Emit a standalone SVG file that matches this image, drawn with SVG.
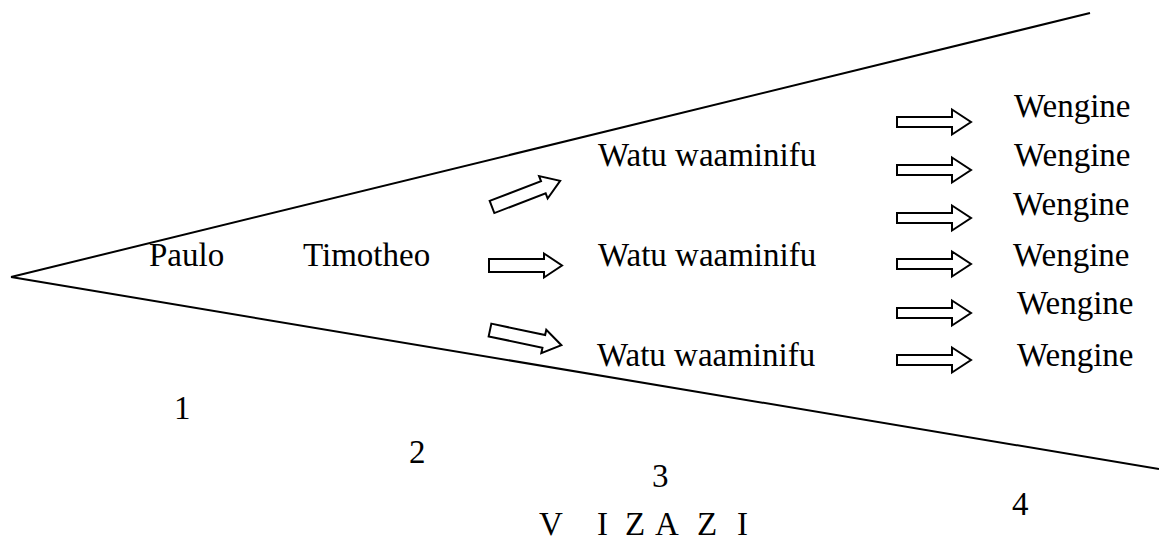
<svg xmlns="http://www.w3.org/2000/svg" width="1159" height="542" viewBox="0 0 1159 542">
<style>
text{font-family:"Liberation Serif","Times New Roman",serif;font-size:33px;fill:#000}
.ln{stroke:#000;stroke-width:2;fill:none}
.ar{fill:#fff;stroke:#000;stroke-width:2;stroke-linejoin:miter}
</style>
<defs>
<path id="arr" d="M0,-6.5 H55 V-12 L73,0 L55,12 V6.5 H0 Z"/>
<path id="arr2" d="M0,-5 H55 V-12.5 L74,0 L55,12.5 V5 H0 Z"/>
</defs>
<rect width="1159" height="542" fill="#fff"/>
<g id="connectors">
<line class="ln" x1="11" y1="277" x2="1090" y2="13"/>
<line class="ln" x1="11" y1="277" x2="1159" y2="469"/>
<use href="#arr" class="ar" transform="translate(492,207) rotate(-21)"/>
<use href="#arr" class="ar" transform="translate(489,265.5)"/>
<use href="#arr" class="ar" transform="translate(490,330) rotate(12)"/>
<use href="#arr2" class="ar" transform="translate(897,122)"/>
<use href="#arr2" class="ar" transform="translate(897,170)"/>
<use href="#arr2" class="ar" transform="translate(897,218)"/>
<use href="#arr2" class="ar" transform="translate(897,264)"/>
<use href="#arr2" class="ar" transform="translate(897,313)"/>
<use href="#arr2" class="ar" transform="translate(897,360)"/>
</g>
<g id="paulo"><text x="149" y="266">Paulo</text></g>
<g id="timotheo"><text x="303" y="266">Timotheo</text></g>
<g id="watu1"><text x="598" y="166">Watu waaminifu</text></g>
<g id="watu2"><text x="598" y="266">Watu waaminifu</text></g>
<g id="watu3"><text x="597" y="366">Watu waaminifu</text></g>
<g id="wengine1"><text x="1014" y="117">Wengine</text></g>
<g id="wengine2"><text x="1014" y="166">Wengine</text></g>
<g id="wengine3"><text x="1013" y="215">Wengine</text></g>
<g id="wengine4"><text x="1013" y="266">Wengine</text></g>
<g id="wengine5"><text x="1017" y="314">Wengine</text></g>
<g id="wengine6"><text x="1017" y="366">Wengine</text></g>
<g id="n1"><text x="174" y="419">1</text></g>
<g id="n2"><text x="409" y="463">2</text></g>
<g id="n3"><text x="652" y="487">3</text></g>
<g id="n4"><text x="1012" y="515">4</text></g>
<g id="vizazi"><text y="535"><tspan x="539">V</tspan><tspan x="597">I</tspan><tspan x="625">Z</tspan><tspan x="655">A</tspan><tspan x="697">Z</tspan><tspan x="737">I</tspan></text></g>
</svg>
